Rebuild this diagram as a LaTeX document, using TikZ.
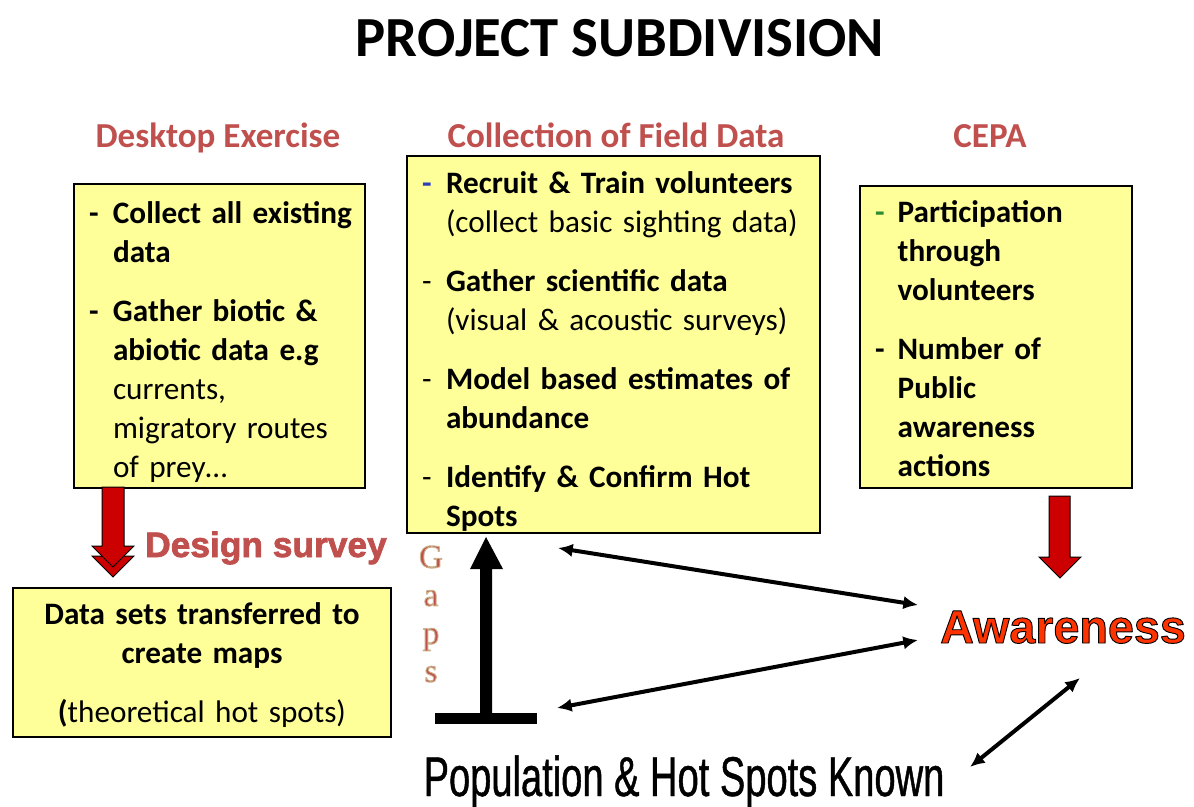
\documentclass[tikz,border=0pt]{standalone}
\usepackage{fontspec}
\setmainfont{Carlito}
\newfontfamily\arialf{Liberation Sans}
\newfontfamily\blackf{Liberation Sans}[FakeBold=2]
\newfontfamily\narrowf{Liberation Sans}[FakeStretch=0.68,FakeBold=0.8]
\newfontfamily\serifg{Liberation Serif}
\usetikzlibrary{arrows.meta}
\definecolor{boxyellow}{HTML}{FFFF99}
\definecolor{hdred}{HTML}{C0504D}
\definecolor{arrred}{HTML}{CC0000}
\definecolor{awor}{HTML}{FF3300}
\definecolor{dashblue}{HTML}{2E3EB8}
\definecolor{dashgreen}{HTML}{2E8B2E}
% outlined text through the PDF text rendering mode (fill + stroke)
\newcommand\strokedtext[3]{% #1 stroke rgb (pdf operands), #2 stroke width (bp), #3 text
  \special{pdf:literal direct #1 RG #2 w 1 j 2 Tr}#3\special{pdf:literal direct 0 Tr}}
\newcommand\gapletter[1]{%
  \textcolor{hdred}{\strokedtext{0.80 0.70 0.55}{0.7}{#1}}}
\newcommand\lowered[2]{\raisebox{-#1}[\height][\depth]{#2}}
\begin{document}
\begin{tikzpicture}[x=0.75pt,y=-0.75pt,
  box/.style={draw=black, line width=1.5pt, fill=boxyellow, anchor=north west,
    inner xsep=11.25pt, inner ysep=0pt, align=left,
    font=\fontsize{23.4pt}{29.25pt}\selectfont},
  header/.style={text=hdred, font=\bfseries\fontsize{26.3pt}{30pt}\selectfont, anchor=base},
  redarrow/.style={fill=arrred, draw=black, line width=0.75pt, line join=miter},
  dbl/.style={{Latex[length=11pt,width=10pt]}-{Latex[length=11pt,width=10pt]}, line width=3pt},
  blackarrow/.style={fill=black, draw=none}
]
\useasboundingbox (0,0) rectangle (1194,806);

% title
\node[anchor=base, font=\bfseries\fontsize{42.5pt}{42.5pt}\selectfont] (title) at (620,57) {PROJECT SUBDIVISION};

% headers
\node[header] (h1) at (218,147) {Desktop Exercise};
\node[header] (h2) at (616,147) {Collection of Field Data};
\node[header] (h3) at (990,147) {CEPA};

% boxes
\node[box, minimum width=218.25pt, minimum height=228pt, text width=195.75pt] (L) at (73,183) {%
\lowered{5.25pt}{\begin{tabular}{@{}p{18pt}@{}l@{}}
\textbf{-} & \textbf{Collect all existing}\\
 & \textbf{data}\\[15pt]
\textbf{-} & \textbf{Gather biotic \&}\\
 & \textbf{abiotic data e.g}\\
 & currents,\\
 & migratory routes\\
 & of prey…
\end{tabular}}};

\node[box, minimum width=309.75pt, minimum height=282.75pt, text width=287.25pt] (M) at (406,155) {%
\lowered{6pt}{\begin{tabular}{@{}p{18pt}@{}l@{}}
\textcolor{dashblue}{\textbf{-}} & \textbf{Recruit \& Train volunteers}\\
 & (collect basic sighting data)\\[15pt]
- & \textbf{Gather scientific data}\\
 & (visual \& acoustic surveys)\\[15pt]
- & \textbf{Model based estimates of}\\
 & \textbf{abundance}\\[15pt]
- & \textbf{Identify \& Confirm Hot}\\
 & \textbf{Spots}
\end{tabular}}};

\node[box, minimum width=204pt, minimum height=226.5pt, text width=181.5pt] (R) at (859,185) {%
\lowered{3.75pt}{\begin{tabular}{@{}p{17pt}@{}l@{}}
\textcolor{dashgreen}{\textbf{-}} & \textbf{Participation}\\
 & \textbf{through}\\
 & \textbf{volunteers}\\[15pt]
\textbf{-} & \textbf{Number of}\\
 & \textbf{Public}\\
 & \textbf{awareness}\\
 & \textbf{actions}
\end{tabular}}};

\node[box, align=center, minimum width=283.5pt, minimum height=111.75pt, text width=261pt] (B) at (12,587)
  {\lowered{2.25pt}{\begin{tabular}{@{}c@{}}\textbf{Data sets transferred to}\\\textbf{create maps}\\[15pt]\textbf{(}theoretical hot spots)\end{tabular}}};

% red block arrows
\draw[redarrow] (92,556) -- (134,556) -- (113,577) -- cycle;
\draw[redarrow] (102,487) -- (124,487) -- (124,546) -- (134,546) -- (113,567) -- (92,546) -- (102,546) -- cycle;
\draw[redarrow] (1049,496) -- (1070,496) -- (1070,557) -- (1081,557) -- (1060,578) -- (1039,557) -- (1049,557) -- cycle;

% design survey
\node[anchor=base, text=hdred, font=\blackf\bfseries\fontsize{26.5pt}{26.5pt}\selectfont] (ds) at (266,557) {Design survey};

% gaps
\node[align=center, font=\serifg\fontsize{25pt}{28.5pt}\selectfont, inner sep=0pt] (gaps) at (431,614)
  {\gapletter{G}\\\gapletter{a}\\\gapletter{p}\\\gapletter{s}};

% big black arrow with bar
\fill[blackarrow] (480,713) -- (480,569) -- (470,569) -- (486,537) -- (503,569) -- (492,569) -- (492,713) -- cycle;
\fill[blackarrow] (435,713) rectangle (537,724);

% awareness
\node[anchor=base, text=awor, font=\blackf\bfseries\fontsize{35pt}{35pt}\selectfont] (A) at (1063,643)
  {\strokedtext{0 0 0}{1.6}{Awareness}};

% population
\node[anchor=base, font=\narrowf\fontsize{42pt}{42pt}\selectfont] (P) at (684,796) {Population \& Hot Spots Known};

% double arrows
\draw[dbl] ([xshift=-41.6pt, yshift=-10.5pt]M.south) -- ([xshift=-108.75pt, yshift=28.5pt]A.base);
\draw[dbl] ([xshift=-95.25pt, yshift=66pt]P.base) -- ([xshift=-108.75pt, yshift=2.25pt]A.base);
\draw[dbl] ([xshift=12.75pt, yshift=-26.25pt]A.base) -- ([xshift=214.5pt, yshift=21.75pt]P.base);
\end{tikzpicture}
\end{document}
